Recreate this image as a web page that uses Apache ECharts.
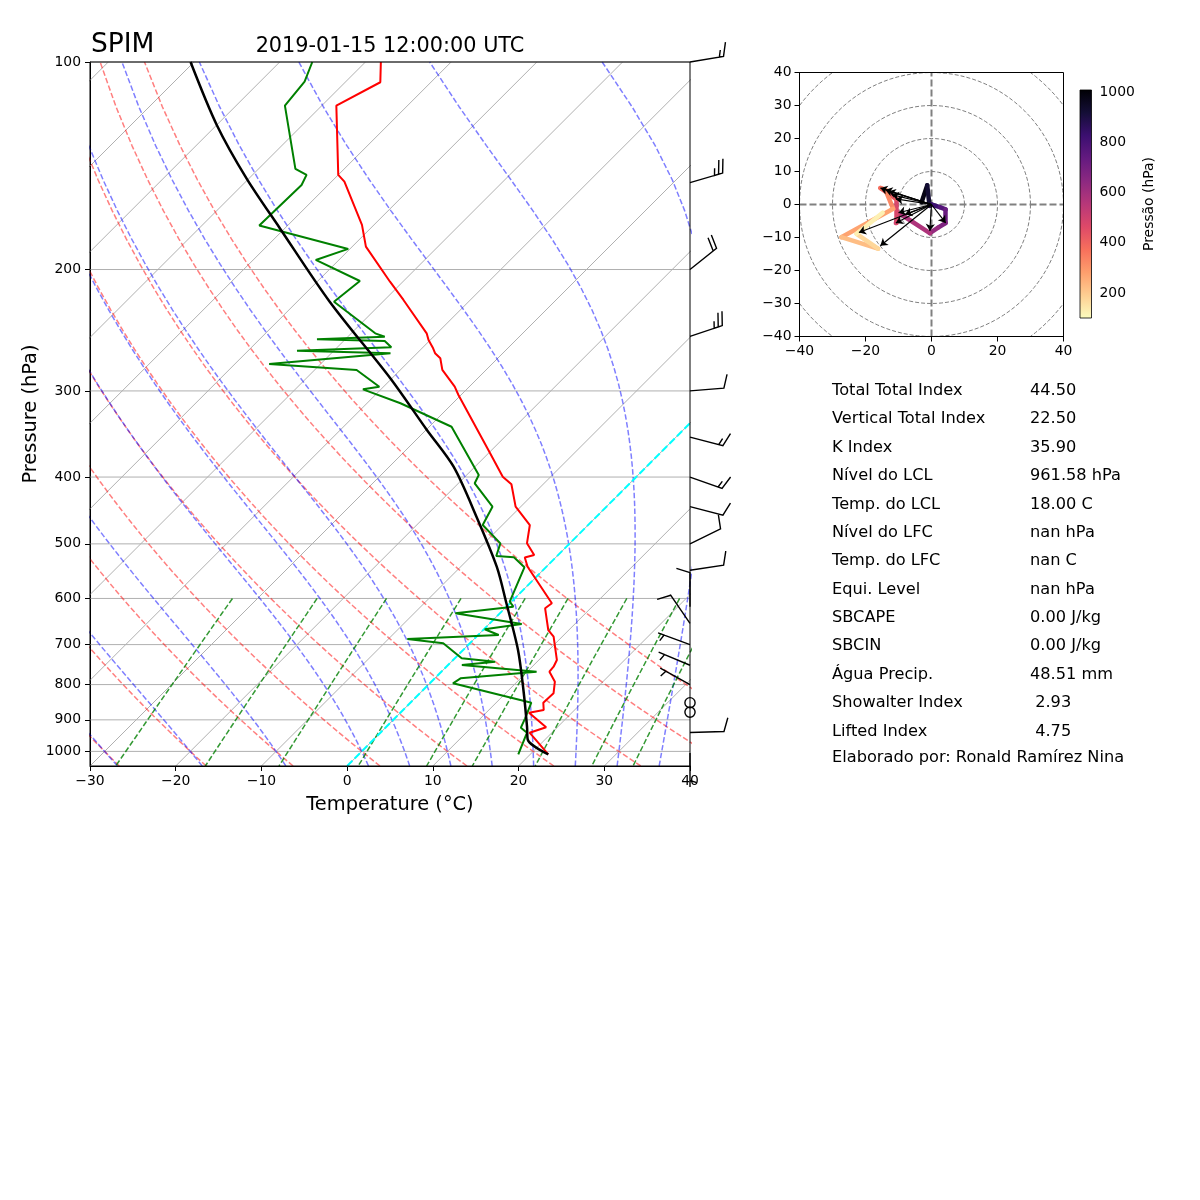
<!DOCTYPE html>
<html><head><meta charset="utf-8">
<script src="https://cdn.jsdelivr.net/npm/echarts@6/dist/echarts.min.js"></script>
<style>html,body{margin:0;padding:0;background:#fff}#c{width:1200px;height:1200px}</style>
</head><body><div id="c"></div>
<script>
// ---------------- DATA ----------------
const stationName = 'SPIM';
const dateTitle = '2019-01-15 12:00:00 UTC';
const pressureTicks = [100,200,300,400,500,600,700,800,900,1000];

const tempP = [1009.7,939.5,922.7,878.8,870.9,849.9,823.7,792.3,766.3,753.6,736.9,681.7,666.7,620.1,609.8,539.6,523.3,518.9,499.1,469.5,441.6,409.8,399.5,369.5,304.1,295.8,279.7,269.0,264.5,260.2,253.1,247.5,221.4,208.3,185.3,172.3,149.1,145.8,115.7,107.0,100.0];
const tempT = [22.1,17.4,18.7,15.0,16.4,15.5,15.6,14.4,12.6,12.5,12.1,9.0,7.6,4.7,4.9,-2.2,-3.6,-2.8,-5.0,-6.8,-10.6,-13.7,-15.6,-19.8,-30.3,-31.7,-35.1,-36.7,-37.9,-38.7,-40.2,-41.2,-47.8,-51.5,-58.4,-61.4,-68.5,-70.0,-78.3,-75.9,-78.2];

const dewP = [1009.7,939.5,923.9,895.4,849.9,796.6,783.4,766.3,749.3,741.1,732.8,697.0,687.0,677.9,665.1,653.4,630.5,616.7,606.5,540.7,522.8,520.7,499.1,469.5,441.6,408.4,397.2,338.1,312.6,298.4,295.8,279.7,274.2,264.5,262.3,259.3,253.9,252.5,250.3,247.5,222.7,207.8,193.7,186.7,172.7,150.8,145.8,142.9,115.7,106.8,100.0];
const dewT = [18.6,17.1,15.8,15.2,14.1,2.7,3.0,11.1,1.6,5.1,0.8,-3.1,-7.8,2.4,0.1,3.8,-5.2,0.8,-0.2,-2.5,-4.9,-7.1,-8.1,-12.3,-13.3,-18.1,-18.6,-27.4,-36.1,-42.1,-40.5,-45.1,-56.0,-43.1,-54.3,-43.7,-45.2,-53.3,-45.7,-47.2,-55.7,-55.1,-62.7,-60.2,-73.3,-73.1,-73.7,-75.7,-84.3,-84.8,-86.2];

const parcelP = [1009.7,961.6,920.8,814.6,712.7,609.8,539.6,456.6,386.4,341.8,287.6,222.7,174.2,147.5,123.4,100.0];
const parcelT = [22.1,18.0,16.4,11.7,6.4,-0.4,-5.8,-14.0,-22.5,-29.9,-40.2,-56.2,-70.6,-80.3,-90.0,-100.4];

// wind barbs (knots)
const barbP = [100,149.6,200,250,300,350,400,441.6,500,546,616.7,651.9,700,750,800,850,877,939,1005];
const barbU = [-14.8,-24.0,-15.6,-23.7,-10.0,-14.5,-14.1,-9.7,-9.0,-9.9,0,5.65,4.69,4.61,4.37,0,0,-10,0];
const barbV = [-2.5,-7.0,-12.5,-7.9,-0.8,3.8,5.0,2.5,-4.4,-1.5,-10,-8.24,-1.73,-1.93,-2.43,0,0,-0.3,5];

// hodograph
const hodoP = [1010,950,900,850,800,750,700,650,600,550,500,450,400,350,300,250,200,150,100];
const hodoU = [-3.0,-1.3,-0.6,0,2.5,4.3,4.3,2.0,-0.5,-10.0,-10.8,-10.8,-15.5,-14.0,-11.6,-27.3,-16.2,-22.7,-14.8];
const hodoV = [0.7,5.8,-0.4,0,-0.8,-1.5,-5.6,-7.0,-8.7,-2.5,-5.6,1.7,5.0,4.5,-1.3,-9.9,-13.4,-8.9,-2.5];
const arrowU = [-15.5,-14.0,-13.0,-12.0,-10.8,-10.0,-8.0,-10.8,-22.0,-15.5,-0.5,4.3];
const arrowV = [5.0,4.5,4.0,3.0,1.7,-2.5,-3.0,-5.6,-8.5,-12.5,-8.0,-5.6];
const colorbarTicks = [200,400,600,800,1000];

const statLabels = ['Total Total Index','Vertical Total Index','K Index','Nível do LCL','Temp. do LCL','Nível do LFC','Temp. do LFC','Equi. Level','SBCAPE','SBCIN','Água Precip.','Showalter Index','Lifted Index'];
const statValues = ['44.50','22.50','35.90','961.58 hPa','18.00 C','nan hPa','nan C','nan hPa','0.00 J/kg','0.00 J/kg','48.51 mm',' 2.93',' 4.75'];
const authorLine = 'Elaborado por: Ronald Ramírez Nina';

// ---------------- GEOMETRY / HELPERS ----------------
const FONT = 'DejaVu Sans';
const GX = 90, GY = 62, GW = 600, GH = 704;
const TMIN = -30, TMAX = 40, P_BOT = 1050, P_TOP = 100;
const SKEW = (TMAX - TMIN) / GW * GH; // 45 degree isotherms
function Y(p){ return Math.log10(p); }
function skewX(T, p){ return T + SKEW * Math.log(P_BOT / p) / Math.log(P_BOT / P_TOP); }
function minus(v){ return v < 0 ? '\u2212' + Math.abs(v) : String(v); }
function linspace(a, b, n){ const r=[]; for(let i=0;i<n;i++) r.push(a+(b-a)*i/(n-1)); return r; }

const Rd=287.04749, Lv=2.50084e6, Cpd=1004.6662, EPS=0.6219569;
function esat(Tk){ const Tc=Tk-273.15; return 6.112*Math.exp(17.67*Tc/(Tc+243.5)); }
function rsat(p,Tk){ const e=esat(Tk); return EPS*e/(p-e); }
function dTdp(p,T){ const rs=rsat(p,T); return (Rd*T+Lv*rs)/(Cpd+Lv*Lv*rs*EPS/(Rd*T*T))/p; }
function moistAt(t0C, pTarget){
  let p=1000, T=t0C+273.15; const n=Math.max(1,Math.ceil(Math.abs(pTarget-1000)/2)); const h=(pTarget-1000)/n;
  for(let i=0;i<n;i++){ const k1=dTdp(p,T), k2=dTdp(p+h/2,T+h/2*k1), k3=dTdp(p+h/2,T+h/2*k2), k4=dTdp(p+h,T+h*k3); T+=h/6*(k1+2*k2+2*k3+k4); p+=h; }
  return T-273.15;
}

const magmaStops = ['#000004','#140e36','#3b0f70','#641a80','#8c2981','#b73779','#de4968','#f7705c','#fe9f6d','#fecf92','#fcfdbf'];
function hx(s){ return [parseInt(s.substr(1,2),16),parseInt(s.substr(3,2),16),parseInt(s.substr(5,2),16)]; }
function magma(t){ t=Math.max(0,Math.min(1,t)); const n=magmaStops.length-1; const i=Math.min(n-1,Math.floor(t*n)); const f=t*n-i; const a=hx(magmaStops[i]), b=hx(magmaStops[i+1]); return 'rgb('+a.map((x,k)=>Math.round(x+(b[k]-x)*f)).join(',')+')'; }

// ---------------- SERIES ----------------
const series = [];
function bgLine(data, color, width, dash, z){ return {type:'line', xAxisIndex:0, yAxisIndex:0, data, showSymbol:false, symbol:'none', clip:true, silent:true, animation:false, lineStyle:{color, width, type: dash||'solid'}, z: z||1}; }

series.push({type:'custom', xAxisIndex:0, yAxisIndex:0, silent:true, z:1,
  data: pressureTicks.map(p=>[TMIN, Y(p)]),
  renderItem:(params, api)=>{ const a=api.coord([TMIN, api.value(1)]), b=api.coord([TMAX, api.value(1)]);
    return {type:'line', shape:{x1:a[0],y1:a[1],x2:b[0],y2:b[1]}, style:{stroke:'#b0b0b0', lineWidth:1}}; }});
for(let T=-120; T<=40; T+=10) series.push(bgLine([[skewX(T,P_BOT),Y(P_BOT)],[skewX(T,P_TOP),Y(P_TOP)]], '#b0b0b0', 1));
const presLin = linspace(P_BOT, P_TOP, 60);
for(let t0=-30; t0<=50; t0+=10){
  const th=t0+273.15;
  series.push(bgLine(presLin.map(p=>{ const T=th*Math.pow(p/1000,0.28571)-273.15; return [skewX(T,p),Y(p)]; }), 'rgba(255,0,0,0.5)', 1.5, [5.5,2.4], 2));
}
const moistT0 = [-30,-20,-10,0,5,10,15,20,25,30,35,40];
moistT0.forEach(t0=>{
  series.push(bgLine(presLin.map(p=>[skewX(moistAt(t0,p),p),Y(p)]), 'rgba(0,0,255,0.5)', 1.5, [5.5,2.4], 2));
});
const mixRatios = [0.0004,0.001,0.002,0.004,0.007,0.01,0.016,0.024,0.032];
const presMix = linspace(600, 1050, 30);
mixRatios.forEach(w=>{
  series.push(bgLine(presMix.map(p=>{ const e=p*w/(EPS+w); const l=Math.log(e/6.112); const Td=243.5*l/(17.67-l); return [skewX(Td,p),Y(p)]; }), 'rgba(0,128,0,0.8)', 1.5, [5.5,2.4], 2));
});
series.push(bgLine([[skewX(0,P_BOT),Y(P_BOT)],[skewX(0,P_TOP),Y(P_TOP)]], '#00ffff', 2, [7.4,3.2], 3));

function profile(P, T, color, width, smooth){
  return {type:'line', xAxisIndex:0, yAxisIndex:0, data:P.map((p,i)=>[skewX(T[i],p),Y(p)]), showSymbol:false, symbol:'none', clip:true, animation:false, smooth: smooth||false, lineStyle:{color, width}, z:5};
}
series.push(profile(tempP, tempT, '#ff0000', 2));
series.push(profile(dewP, dewT, '#008000', 2));
series.push(profile(parcelP, parcelT, '#000000', 2.5, 0.3));

const BARB_LEN = 34;
series.push({type:'custom', xAxisIndex:0, yAxisIndex:0, clip:false, z:10, silent:true,
  data: barbP.map((p,i)=>[TMAX, Y(p), barbU[i], barbV[i]]),
  renderItem:(params, api)=>{
    const c=api.coord([api.value(0), api.value(1)]); const u=api.value(2), v=api.value(3);
    const L=BARB_LEN, sp=0.125*L, fh=0.4*L, fw=0.25*L, er=0.15*L;
    let mag=5*Math.round(Math.hypot(u,v)/5);
    if(mag<5) return {type:'circle', shape:{cx:c[0],cy:c[1],r:er}, style:{fill:'none',stroke:'#000',lineWidth:1.4}};
    const nf=Math.floor(mag/50); mag-=nf*50; const nb=Math.floor(mag/10); mag-=nb*10; const half=mag>=5;
    const h=-fh; const pts=[[0,0]]; let off=L;
    for(let i=0;i<nf;i++){ if(off!==L) off+=sp/2; pts.push([0,off],[h,off-fw/2],[0,off-fw]); off-=fw+sp; }
    for(let i=0;i<nb;i++){ pts.push([0,off],[h,off+fw/2],[0,off]); off-=sp; }
    if(half){ if(off===L){ pts.push([0,off]); off-=1.5*sp; } pts.push([0,off],[h/2,off+fw/4],[0,off]); }
    const phi=Math.atan2(v,u)+Math.PI/2, cs=Math.cos(phi), sn=Math.sin(phi);
    return {type:'polyline', shape:{points:pts.map(([x,y])=>[c[0]+x*cs-y*sn, c[1]-(x*sn+y*cs)])}, style:{fill:'none',stroke:'#000',lineWidth:1.4}};
  }});

const HMIN = Math.min(...hodoP), HMAX = Math.max(...hodoP);
function hodoLine(data, color, width, dash){ return {type:'line', xAxisIndex:1, yAxisIndex:1, data, showSymbol:false, symbol:'none', clip:true, silent:true, animation:false, lineStyle:{color, width, type:dash}, z:2}; }
for(let r=10; r<=50; r+=10){
  const d=[]; for(let a=0;a<=360;a+=3){ d.push([r*Math.cos(a*Math.PI/180), r*Math.sin(a*Math.PI/180)]); }
  series.push(hodoLine(d, '#808080', 1, [4,2]));
}
series.push(hodoLine([[-40,0],[40,0]], '#808080', 2, [7,3]));
series.push(hodoLine([[0,-40],[0,40]], '#808080', 2, [7,3]));
const hodoSegs=[];
for(let i=0;i<hodoP.length-1;i++){
  const pm=(hodoP[i]+hodoP[i+1])/2;
  hodoSegs.push({coords:[[hodoU[i],hodoV[i]],[hodoU[i+1],hodoV[i+1]]], lineStyle:{color: magma((HMAX-pm)/(HMAX-HMIN))}});
}
series.push({type:'lines', coordinateSystem:'cartesian2d', xAxisIndex:1, yAxisIndex:1, data:hodoSegs, lineStyle:{width:4.5, opacity:1, cap:'round'}, z:4, silent:true, animation:false});
series.push({type:'lines', coordinateSystem:'cartesian2d', xAxisIndex:1, yAxisIndex:1, z:5, silent:true, animation:false,
  data: arrowU.map((u,i)=>({coords:[[0,0],[u,arrowV[i]]]})), symbol:['none','arrow'], symbolSize:7, lineStyle:{color:'#000', width:1.2, opacity:1}});

series.push({type:'custom', xAxisIndex:2, yAxisIndex:2, silent:true, z:2,
  data:[[0,HMIN,1,HMAX]],
  renderItem:(params, api)=>{ const a=api.coord([0,HMAX]), b=api.coord([1,HMIN]);
    return {type:'rect', shape:{x:a[0],y:a[1],width:b[0]-a[0],height:b[1]-a[1]},
      style:{fill:{type:'linear',x:0,y:0,x2:0,y2:1,colorStops:magmaStops.map((c,k)=>({offset:k/(magmaStops.length-1),color:c}))}, stroke:'#000', lineWidth:0.8}}; }});

const tickFont = {fontFamily:FONT, fontSize:13.9, color:'#000'};
const option = {
  animation:false, backgroundColor:'#fff',
  grid:[
    {left:GX, top:GY, width:GW, height:GH},
    {left:799.5, top:72.5, width:264, height:264},
    {left:1080, top:90, width:11.5, height:228}
  ],
  xAxis:[
    {gridIndex:0, type:'value', min:TMIN, max:TMAX, interval:10, axisLine:{lineStyle:{color:'#000',width:1}}, axisTick:{length:5, lineStyle:{color:'#000'}}, splitLine:{show:false},
     axisLabel:Object.assign({margin:8, formatter:minus}, tickFont), name:'Temperature (°C)', nameLocation:'middle', nameGap:29, nameTextStyle:{fontFamily:FONT, fontSize:19.4, color:'#000'}},
    {gridIndex:1, type:'value', min:-40, max:40, interval:20, axisLine:{onZero:false, lineStyle:{color:'#000'}}, axisTick:{length:5, lineStyle:{color:'#000'}}, splitLine:{show:false}, axisLabel:Object.assign({margin:8, formatter:minus}, tickFont)},
    {gridIndex:2, type:'value', min:0, max:1, show:false}
  ],
  yAxis:[
    {gridIndex:0, type:'value', min:Y(P_TOP), max:Y(P_BOT), inverse:true, axisLine:{onZero:false, lineStyle:{color:'#000',width:1}}, splitLine:{show:false},
     axisTick:{length:5, customValues:pressureTicks.map(Y), lineStyle:{color:'#000'}},
     axisLabel:Object.assign({margin:9, customValues:pressureTicks.map(Y), formatter:v=>String(Math.round(Math.pow(10,v)))}, tickFont),
     name:'Pressure (hPa)', nameLocation:'middle', nameGap:50, nameRotate:90, nameTextStyle:{fontFamily:FONT, fontSize:19.4, color:'#000'}},
    {gridIndex:1, type:'value', min:-40, max:40, interval:10, axisLine:{onZero:false, lineStyle:{color:'#000'}}, axisTick:{length:5, lineStyle:{color:'#000'}}, splitLine:{show:false}, axisLabel:Object.assign({margin:8, formatter:minus}, tickFont)},
    {gridIndex:2, type:'value', min:HMIN, max:HMAX, position:'right', axisLine:{show:false}, splitLine:{show:false},
     axisTick:{length:5, customValues:colorbarTicks, lineStyle:{color:'#000'}},
     axisLabel:Object.assign({margin:8, customValues:colorbarTicks, formatter:v=>String(Math.round(v))}, tickFont),
     name:'Pressão (hPa)', nameLocation:'middle', nameGap:51, nameRotate:90, nameTextStyle:{fontFamily:FONT, fontSize:13.9, color:'#000'}}
  ],
  series,
  graphic:[]
};

option.graphic.push({type:'rect', shape:{x:GX,y:GY,width:GW,height:GH}, style:{fill:'none',stroke:'#000',lineWidth:1}, z:50, silent:true});
option.graphic.push({type:'rect', shape:{x:799.5,y:72.5,width:264,height:264}, style:{fill:'none',stroke:'#000',lineWidth:1}, z:50, silent:true});
option.graphic.push({type:'text', x:91, y:45, style:{text:stationName, font:'26.5px "DejaVu Sans"', fill:'#000', textAlign:'left', textVerticalAlign:'middle', verticalAlign:'middle'}, z:50});
option.graphic.push({type:'text', x:GX+GW/2, y:47, style:{text:dateTitle, font:'20.8px "DejaVu Sans"', fill:'#000', textAlign:'center', textVerticalAlign:'middle', verticalAlign:'middle'}, z:50});
statLabels.forEach((s,i)=>{
  const y=390.8+i*28.38;
  option.graphic.push({type:'text', x:832, y, style:{text:s, font:'16.2px "DejaVu Sans"', fill:'#000', textAlign:'left', textVerticalAlign:'middle', verticalAlign:'middle'}, z:50});
  option.graphic.push({type:'text', x:1030, y, style:{text:statValues[i], font:'16.2px "DejaVu Sans"', fill:'#000', textAlign:'left', textVerticalAlign:'middle', verticalAlign:'middle'}, z:50});
});
option.graphic.push({type:'text', x:832, y:757.3, style:{text:authorLine, font:'16.2px "DejaVu Sans"', fill:'#000', textAlign:'left', textVerticalAlign:'middle', verticalAlign:'middle'}, z:50});

const chart = echarts.init(document.getElementById('c'), null, {renderer:'canvas'});
chart.setOption(option);
</script></body></html>
